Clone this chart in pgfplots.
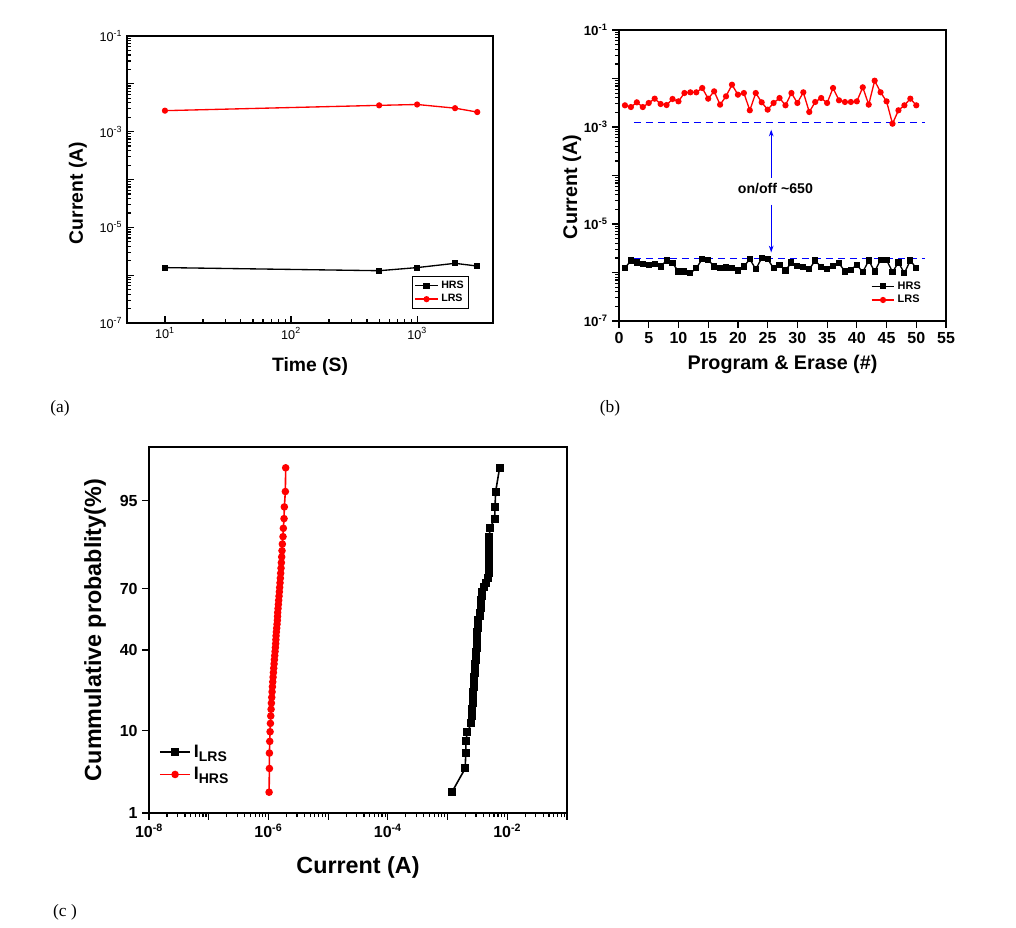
\documentclass[border=0pt]{standalone}
\usepackage{fontspec}
\setmainfont{Liberation Sans}
\newfontfamily\panelfont{Liberation Serif}
\usepackage{pgfplots}
\pgfplotsset{compat=1.18}
\usetikzlibrary{arrows.meta}

\pgfplotstableread{
n y
1 2.80e-3
2 2.58e-3
3 3.23e-3
4 2.58e-3
5 3.13e-3
6 3.84e-3
7 2.98e-3
8 2.84e-3
9 3.78e-3
10 3.38e-3
11 5.02e-3
12 5.19e-3
13 5.19e-3
14 6.37e-3
15 3.84e-3
16 5.44e-3
17 2.89e-3
18 4.29e-3
19 7.46e-3
20 4.64e-3
21 5.02e-3
22 2.21e-3
23 5.02e-3
24 3.23e-3
25 2.28e-3
26 3.13e-3
27 3.96e-3
28 2.80e-3
29 5.02e-3
30 3.13e-3
31 5.19e-3
32 2.04e-3
33 3.28e-3
34 3.96e-3
35 3.13e-3
36 6.37e-3
37 3.55e-3
38 3.28e-3
39 3.28e-3
40 3.38e-3
41 6.58e-3
42 2.89e-3
43 9.02e-3
44 5.19e-3
45 3.38e-3
46 1.17e-3
47 2.21e-3
48 2.80e-3
49 3.84e-3
50 2.80e-3
}\lrsb

\pgfplotstableread{
n y
1 1.23e-6
2 1.77e-6
3 1.61e-6
4 1.49e-6
5 1.44e-6
6 1.49e-6
7 1.33e-6
8 1.77e-6
9 1.56e-6
10 1.05e-6
11 1.05e-6
12 0.97e-6
13 1.23e-6
14 1.89e-6
15 1.83e-6
16 1.33e-6
17 1.23e-6
18 1.27e-6
19 1.23e-6
20 1.10e-6
21 1.33e-6
22 1.89e-6
23 1.17e-6
24 1.98e-6
25 1.89e-6
26 1.23e-6
27 1.44e-6
28 1.10e-6
29 1.61e-6
30 1.37e-6
31 1.29e-6
32 1.17e-6
33 1.77e-6
34 1.29e-6
35 1.17e-6
36 1.37e-6
37 1.56e-6
38 1.05e-6
39 1.14e-6
40 1.44e-6
41 1.02e-6
42 1.77e-6
43 1.05e-6
44 1.83e-6
45 1.83e-6
46 1.02e-6
47 1.61e-6
48 0.97e-6
49 1.77e-6
50 1.23e-6
}\hrsb

\pgfplotstableread{
x z
1.18e-3 -2.0619
1.97e-3 -1.7603
2.02e-3 -1.5647
2.02e-3 -1.4159
2.15e-3 -1.2930
2.51e-3 -1.1868
2.54e-3 -1.0928
2.61e-3 -1.0077
2.64e-3 -0.9289
2.68e-3 -0.8560
2.71e-3 -0.7866
2.75e-3 -0.7215
2.78e-3 -0.6591
2.82e-3 -0.5994
2.85e-3 -0.5414
2.89e-3 -0.4856
2.93e-3 -0.4307
2.97e-3 -0.3774
3.01e-3 -0.3248
3.04e-3 -0.2737
3.08e-3 -0.2225
3.08e-3 -0.1726
3.12e-3 -0.1231
3.16e-3 -0.0738
3.16e-3 -0.0246
3.20e-3 0.0246
3.20e-3 0.0738
3.24e-3 0.1231
3.46e-3 0.1726
3.55e-3 0.2225
3.59e-3 0.2737
3.64e-3 0.3248
3.69e-3 0.3774
3.74e-3 0.4307
3.83e-3 0.4856
4.08e-3 0.5414
4.47e-3 0.5994
4.82e-3 0.6591
4.88e-3 0.7215
4.88e-3 0.7866
4.94e-3 0.8560
4.94e-3 0.9289
4.94e-3 1.0077
4.94e-3 1.0928
5.01e-3 1.1868
5.14e-3 1.2930
6.15e-3 1.4159
6.23e-3 1.5647
6.39e-3 1.7603
7.44e-3 2.0619
}\lrsc

\pgfplotstableread{
x z
1.026e-6 -2.0619
1.039e-6 -1.7603
1.039e-6 -1.5647
1.052e-6 -1.4159
1.066e-6 -1.2930
1.080e-6 -1.1868
1.094e-6 -1.0928
1.108e-6 -1.0077
1.122e-6 -0.9289
1.137e-6 -0.8560
1.151e-6 -0.7866
1.166e-6 -0.7215
1.181e-6 -0.6591
1.196e-6 -0.5994
1.212e-6 -0.5414
1.227e-6 -0.4856
1.243e-6 -0.4307
1.259e-6 -0.3774
1.275e-6 -0.3248
1.292e-6 -0.2737
1.308e-6 -0.2225
1.325e-6 -0.1726
1.334e-6 -0.1231
1.342e-6 -0.0738
1.359e-6 -0.0246
1.377e-6 0.0246
1.394e-6 0.0738
1.412e-6 0.1231
1.421e-6 0.1726
1.430e-6 0.2225
1.449e-6 0.2737
1.468e-6 0.3248
1.486e-6 0.3774
1.505e-6 0.4307
1.525e-6 0.4856
1.544e-6 0.5414
1.564e-6 0.5994
1.585e-6 0.6591
1.605e-6 0.7215
1.626e-6 0.7866
1.647e-6 0.8560
1.668e-6 0.9289
1.690e-6 1.0077
1.712e-6 1.0928
1.756e-6 1.1868
1.778e-6 1.2930
1.825e-6 1.4159
1.848e-6 1.5647
1.921e-6 1.7603
1.946e-6 2.0619
}\hrsc

\pgfplotsset{
  origin/.style={
    scale only axis,
    axis line style={line width=1.8pt},
    every tick/.style={black, line width=0.9pt},
    major tick length=5pt,
    minor tick length=3pt,
    xtick pos=bottom, ytick pos=left,
    legend cell align=left,
  },
}

\begin{document}
\begin{tikzpicture}
\useasboundingbox (0pt,0pt) rectangle (762pt,-695.25pt);

% ---------- (a) ----------
\begin{axis}[origin,
  at={(95.25pt,-242.25pt)}, anchor=south west,
  width=274.5pt, height=215.25pt,
  xmode=log, ymode=log,
  xmin=5, xmax=4000, ymin=1e-7, ymax=1e-1,
  tick align=inside,
  xtick={10,100,1000},
  xticklabels={10\textsuperscript{1},10\textsuperscript{2},10\textsuperscript{3}},
  ytick={1e-7,1e-6,1e-5,1e-4,1e-3,1e-2,1e-1},
  yticklabels={10\textsuperscript{-7},,10\textsuperscript{-5},,10\textsuperscript{-3},,10\textsuperscript{-1}},
  ticklabel style={font=\fontsize{9.5}{11}\selectfont},
  xlabel={\bfseries Time (S)},
  ylabel={\bfseries Current (A)},
  label style={font=\fontsize{14.5}{17}\selectfont},
  xlabel style={at={(axis description cs:0.5,-0.153)}, anchor=center},
  ylabel style={at={(axis description cs:-0.134,0.453)}, anchor=center},
  legend style={at={(0.934,0.049)}, anchor=south east, draw=black, line width=0.6pt,
    font=\fontsize{8}{9.5}\selectfont\bfseries, inner sep=1.5pt, row sep=-1pt},
]
\addplot[black, line width=1pt, mark=square*, mark size=1.8pt] coordinates {
(10,1.44e-6) (500,1.24e-6) (1000,1.44e-6) (2000,1.77e-6) (3000,1.55e-6)};
\addlegendentry{HRS}
\addplot[red, line width=1pt, mark=*, mark size=1.8pt] coordinates {
(10,2.75e-3) (500,3.55e-3) (1000,3.7e-3) (2000,3.1e-3) (3000,2.57e-3)};
\addlegendentry{LRS}
\end{axis}

% ---------- (b) ----------
\begin{axis}[origin,
  at={(464.25pt,-240.75pt)}, anchor=south west,
  width=245.25pt, height=218.25pt,
  ymode=log,
  xmin=0, xmax=55, ymin=1e-7, ymax=1e-1,
  tick align=outside,
  xtick={0,5,...,55},
  ytick={1e-7,1e-6,1e-5,1e-4,1e-3,1e-2,1e-1},
  yticklabels={10\textsuperscript{-7},,10\textsuperscript{-5},,10\textsuperscript{-3},,10\textsuperscript{-1}},
  /pgf/number format/assume math mode=true,
  xticklabel style={font=\fontsize{12}{14}\selectfont\bfseries},
  yticklabel style={font=\fontsize{10}{12}\selectfont\bfseries},
  xlabel={\bfseries Program \& Erase (\#)},
  ylabel={\bfseries Current (A)},
  label style={font=\fontsize{14.8}{17}\selectfont},
  xlabel style={at={(axis description cs:0.5,-0.148)}, anchor=center},
  ylabel style={at={(axis description cs:-0.144,0.46)}, anchor=center},
  legend style={at={(0.936,0.041)}, anchor=south east, draw=none, fill=none,
    font=\fontsize{8.2}{9.5}\selectfont\bfseries, inner sep=1pt, row sep=-1pt},
]
\addplot[black, line width=1pt, mark=square*, mark size=1.8pt] table[x=n,y=y] {\hrsb};
\addlegendentry{HRS}
\addplot[red, line width=1pt, mark=*, mark size=1.8pt] table[x=n,y=y] {\lrsb};
\addlegendentry{LRS}
\addplot[blue, line width=0.8pt, dash pattern=on 5pt off 4pt, forget plot] coordinates {(2.5,1.25e-3) (51.5,1.25e-3)};
\addplot[blue, line width=0.8pt, dash pattern=on 5pt off 4pt, forget plot] coordinates {(2.5,1.95e-6) (51.5,1.95e-6)};
\draw[blue, line width=0.8pt, -{Stealth[length=5pt,width=3.5pt]}] (axis cs:25.6,8.9e-5) -- (axis cs:25.6,8.8e-4);
\draw[blue, line width=0.8pt, -{Stealth[length=5pt,width=3.5pt]}] (axis cs:25.6,2.5e-5) -- (axis cs:25.6,2.6e-6);
\node[font=\fontsize{10.6}{12}\selectfont\bfseries] at (axis cs:26.3,5.35e-5) {on/off {\char"7E}650};
\end{axis}

% ---------- (c) ----------
\begin{axis}[origin,
  at={(111.75pt,-609.75pt)}, anchor=south west,
  width=313.5pt, height=274.5pt,
  xmode=log,
  xmin=1e-8, xmax=1e-1, ymin=-2.3263, ymax=2.3263,
  tick align=outside,
  axis line style={line width=2.2pt},
  xtick={1e-8,1e-7,1e-6,1e-5,1e-4,1e-3,1e-2,1e-1},
  xticklabels={10\textsuperscript{-8},,10\textsuperscript{-6},,10\textsuperscript{-4},,10\textsuperscript{-2},},
  ytick={-2.3263,-1.2816,-0.2533,0.5244,1.6449},
  yticklabels={1,10,40,70,95},
  ticklabel style={font=\fontsize{12}{14}\selectfont\bfseries},
  xlabel={\bfseries Current (A)},
  ylabel={\bfseries Cummulative probablity(\%)},
  label style={font=\fontsize{17.5}{20}\selectfont},
  xlabel style={at={(axis description cs:0.5,-0.148)}, anchor=center},
  ylabel style={at={(axis description cs:-0.129,0.5)}, anchor=center},
  legend style={at={(0.02,0.074)}, anchor=south west, draw=none, fill=none,
    font=\fontsize{13.5}{16}\selectfont\bfseries, inner sep=1pt, row sep=2pt},
  legend image code/.code={\draw[#1, mark repeat=2, mark phase=2] plot coordinates {(0pt,0pt) (11.5pt,0pt) (23pt,0pt)};},
]
\addplot[black, line width=1.2pt, mark=square*, mark size=2.4pt] table[x=x,y=z] {\lrsc};
\addlegendentry{I\raisebox{-0.45ex}{\fontsize{10.5}{12}\selectfont LRS}}
\addplot[red, line width=1.2pt, mark=*, mark size=2.2pt] table[x=x,y=z] {\hrsc};
\addlegendentry{I\raisebox{-0.45ex}{\fontsize{10.5}{12}\selectfont HRS}}
\end{axis}

\node[font=\panelfont\fontsize{13}{15}\selectfont] at (45pt,-306pt) {(a)};
\node[font=\panelfont\fontsize{13}{15}\selectfont] at (457.5pt,-306pt) {(b)};
\node[font=\panelfont\fontsize{13}{15}\selectfont] at (48.75pt,-684pt) {(c )};
\end{tikzpicture}
\end{document}
